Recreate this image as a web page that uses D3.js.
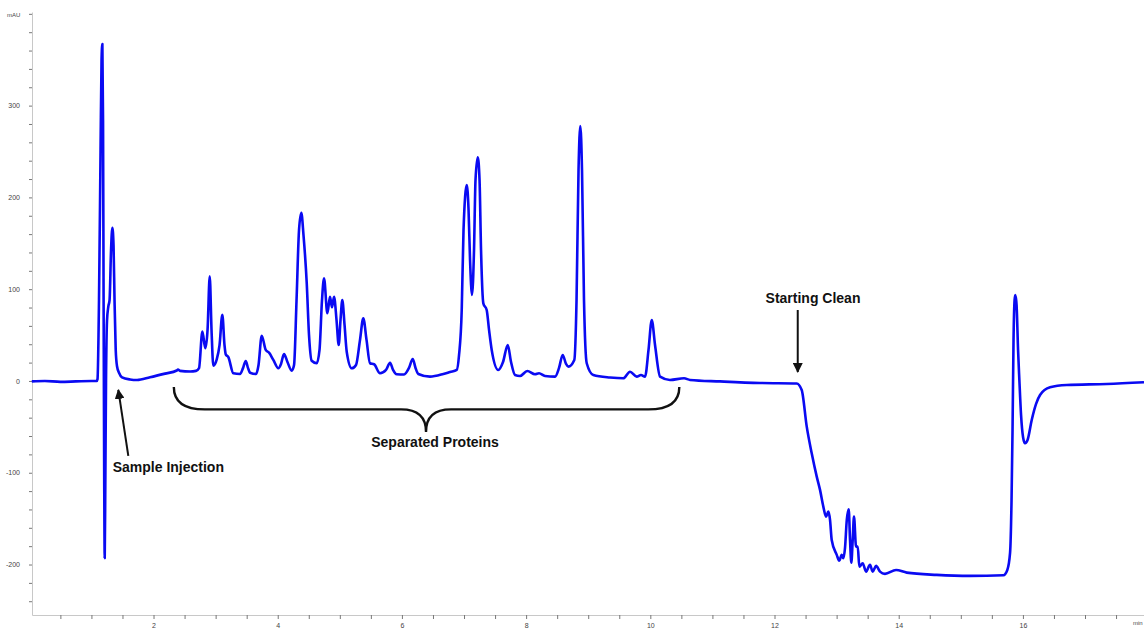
<!DOCTYPE html>
<html>
<head>
<meta charset="utf-8">
<style>
  body { margin: 0; background: #fff; }
  svg { display: block; }
  .axis text { font-family: "Liberation Sans", Arial, sans-serif; font-size: 7px; fill: #444; }
  .axis path { stroke: #c8c8c8; }
  .axis line { stroke: #777; }
  .note { font-family: "Liberation Sans", Arial, sans-serif; font-size: 14px; font-weight: bold; fill: #111; }
</style>
</head>
<body>
<svg width="1144" height="628"></svg>
<script src="https://cdnjs.cloudflare.com/ajax/libs/d3/7.8.5/d3.min.js"></script>
<script>
// retention time (min) and absorbance (mAU)
var time = [0.04, 0.25, 0.5, 0.75, 1.0, 1.085, 1.098, 1.122, 1.147, 1.163, 1.176, 1.187, 1.196, 1.206, 1.214, 1.224,
  1.235, 1.251, 1.272, 1.292, 1.316, 1.337, 1.356, 1.372, 1.391, 1.412, 1.444, 1.493, 1.622, 1.734, 1.944, 2.185,
  2.374, 2.394, 2.427, 2.588, 2.684, 2.733, 2.786, 2.834, 2.870, 2.905, 2.934, 2.963, 3.018, 3.063, 3.108, 3.143,
  3.163, 3.205, 3.285, 3.393, 3.441, 3.485, 3.522, 3.554, 3.651, 3.691, 3.742, 3.807, 3.860, 3.929, 4.010, 4.053,
  4.101, 4.155, 4.225, 4.263, 4.303, 4.343, 4.380, 4.415, 4.467, 4.504, 4.547, 4.628, 4.673, 4.713, 4.746, 4.799,
  4.842, 4.874, 4.907, 4.947, 4.982, 5.011, 5.040, 5.076, 5.111, 5.192, 5.261, 5.325, 5.378, 5.430, 5.486, 5.551,
  5.647, 5.744, 5.809, 5.857, 5.916, 6.034, 6.114, 6.174, 6.219, 6.264, 6.452, 6.667, 6.775, 6.883, 6.920, 6.963,
  6.992, 7.044, 7.073, 7.097, 7.129, 7.161, 7.185, 7.221, 7.250, 7.274, 7.311, 7.365, 7.403, 7.446, 7.552, 7.628,
  7.704, 7.757, 7.821, 7.902, 8.019, 8.143, 8.208, 8.304, 8.466, 8.530, 8.589, 8.643, 8.680, 8.776, 8.812, 8.844,
  8.873, 8.900, 8.932, 8.976, 9.082, 9.351, 9.565, 9.673, 9.781, 9.850, 9.915, 9.971, 10.023, 10.076, 10.157, 10.317,
  10.543, 10.640, 11.122, 11.766, 12.357, 12.438, 12.519, 12.599, 12.680, 12.733, 12.786, 12.830, 12.867, 12.894, 12.921, 13.002,
  13.043, 13.082, 13.108, 13.135, 13.164, 13.195, 13.216, 13.237, 13.259, 13.280, 13.313, 13.340, 13.366, 13.420, 13.474, 13.538,
  13.581, 13.635, 13.699, 13.779, 13.957, 14.129, 14.612, 15.149, 15.685, 15.749, 15.793, 15.817, 15.833, 15.849, 15.866, 15.878,
  15.898, 15.922, 15.943, 15.970, 16.002, 16.034, 16.075, 16.142, 16.212, 16.276, 16.437, 16.706, 17.350, 17.950];
var mAU = [-0.5, 0, -1, -0.5, 0, 0, 2, 88, 252, 350, 367, 284, 88, -108, -193, -108,
  0, 66, 81, 88, 143, 167, 148, 88, 34, 16, 9, 4, 1.6, 1, 4, 8,
  11.4, 12.5, 11, 10.3, 11, 14, 53.7, 35.6, 55.6, 114, 55.6, 16.7, 23.6, 39, 72, 39,
  29, 26, 8.4, 7.6, 14, 21.8, 14, 9, 7.6, 17.4, 49.3, 33.8, 30.8, 22.9, 13.8, 18.5,
  29.4, 21, 11.2, 17.4, 88, 164.5, 183.3, 159, 106.8, 50, 22, 19.3, 33.8, 88, 111.9, 73.7,
  91.8, 80.3, 91.8, 66.4, 39.2, 66.4, 88.2, 61, 31.9, 13.8, 17.4, 44.7, 68.3, 44.7, 19.3, 18.2,
  8.4, 12, 19.9, 12, 7.3, 7.1, 14.2, 24, 14.2, 7.6, 4.7, 7.6, 9.8, 12, 28.3, 77.3,
  164.5, 213.5, 186.3, 131.8, 93.7, 142.7, 219, 243.7, 219, 142.7, 84.6, 77.3, 55.6, 33.8, 12, 20.7,
  39.2, 20.7, 6.5, 5.4, 10.9, 7.3, 8.4, 5.4, 4.7, 14.2, 28.3, 18.5, 15.6, 22.9, 88.2, 229.8,
  277.8, 229.8, 88.2, 19.3, 6.5, 3.8, 2.9, 10.1, 4.7, 6.5, 4.7, 33.8, 66.4, 39.2, 4.7, 1.1,
  2.9, 1.1, -0.5, -2.2, -2.7, -9.8, -49.8, -78.8, -104.2, -118.7, -136.9, -147.8, -142.4, -151.4, -173.2, -189.5,
  -195.8, -189.5, -193.1, -182.2, -151.4, -139.8, -173.2, -197.9, -173.2, -147.8, -180.5, -180.5, -202.3, -198.6, -207.7, -200.4,
  -207.7, -201.5, -207.7, -210.2, -205.9, -208.8, -211.3, -212.4, -211.7, -205.9, -187.4, -129.6, -53.4, 44.7, 88.2, 93.7,
  82.8, 33.8, 1.1, -37, -61, -67.9, -64.3, -42.5, -25, -15.3, -6.9, -4.4, -3.3, -1.4];

var xLabels = [2, 4, 6, 8, 10, 12, 14, 16];
var yLabels = [-200, -100, 0, 100, 200, 300];

var svg = d3.select("svg");

var x = d3.scaleLinear().domain([0.043, 17.95]).range([32, 1144]);
var y = d3.scaleLinear().domain([-255, 402]).range([615, 12]);

// axes
svg.append("g")
    .attr("class", "axis")
    .attr("transform", "translate(0,615)")
    .call(d3.axisBottom(x)
      .tickValues(d3.range(0.5, 18, 0.5))
      .tickSize(4)
      .tickPadding(4)
      .tickSizeOuter(0)
      .tickFormat(function(d) { return xLabels.indexOf(d) >= 0 ? d : ""; }));

svg.append("g")
    .attr("class", "axis")
    .attr("transform", "translate(32,0)")
    .call(d3.axisLeft(y)
      .tickValues(d3.range(-240, 401, 20))
      .tickSize(3)
      .tickPadding(9)
      .tickSizeOuter(0)
      .tickFormat(function(d) { return yLabels.indexOf(d) >= 0 ? d : ""; }));

svg.append("text")
    .attr("x", 7).attr("y", 17)
    .style("font-family", "Liberation Sans, Arial, sans-serif")
    .style("font-size", "6px").style("fill", "#444")
    .text("mAU");

svg.append("text")
    .attr("x", 1133).attr("y", 625)
    .style("font-family", "Liberation Sans, Arial, sans-serif")
    .style("font-size", "6px").style("fill", "#444")
    .text("min");

// trace
var pts = time.map(function(t, i) { return [t, mAU[i]]; });
var line = d3.line()
    .x(function(d) { return x(d[0]); })
    .y(function(d) { return y(d[1]); })
    .curve(d3.curveMonotoneX);

svg.append("path")
    .datum(pts)
    .attr("fill", "none")
    .attr("stroke", "#0a0af2")
    .attr("stroke-width", 2.6)
    .attr("stroke-linejoin", "round")
    .attr("d", line);

// annotations
svg.append("defs").append("marker")
    .attr("id", "head")
    .attr("viewBox", "0 0 10 10")
    .attr("refX", 9).attr("refY", 5)
    .attr("markerWidth", 5).attr("markerHeight", 5)
    .attr("orient", "auto")
  .append("path")
    .attr("d", "M0,0L10,5L0,10Z")
    .attr("fill", "#111");

function arrow(t0, v0, t1, v1) {
  svg.append("line")
      .attr("x1", x(t0)).attr("y1", y(v0))
      .attr("x2", x(t1)).attr("y2", y(v1))
      .attr("stroke", "#111")
      .attr("stroke-width", 2)
      .attr("marker-end", "url(#head)");
}

arrow(1.594, -81.7, 1.433, -9.8);
svg.append("text").attr("class", "note")
    .attr("x", x(1.343)).attr("y", y(-98.8))
    .text("Sample Injection");

arrow(12.374, 77.3, 12.374, 9.8);
svg.append("text").attr("class", "note")
    .attr("x", x(12.62)).attr("y", y(85.3))
    .attr("text-anchor", "middle")
    .text("Starting Clean");

// brace under the protein peaks
var bx1 = x(2.327), bx2 = x(10.467), bm = x(6.388),
    by0 = y(-6.5), by1 = y(-31), byt = y(-55.6);
svg.append("path")
    .attr("fill", "none")
    .attr("stroke", "#111")
    .attr("stroke-width", 2.4)
    .attr("d", "M" + bx1 + "," + by0 +
      "Q" + bx1 + "," + by1 + " " + (bx1 + 31) + "," + by1 +
      "L" + (bm - 25) + "," + by1 +
      "Q" + bm + "," + by1 + " " + bm + "," + byt +
      "Q" + bm + "," + by1 + " " + (bm + 25) + "," + by1 +
      "L" + (bx2 - 31) + "," + by1 +
      "Q" + bx2 + "," + by1 + " " + bx2 + "," + by0);

svg.append("text").attr("class", "note")
    .attr("x", x(6.533)).attr("y", y(-71.9))
    .attr("text-anchor", "middle")
    .text("Separated Proteins");
</script>
</body>
</html>
